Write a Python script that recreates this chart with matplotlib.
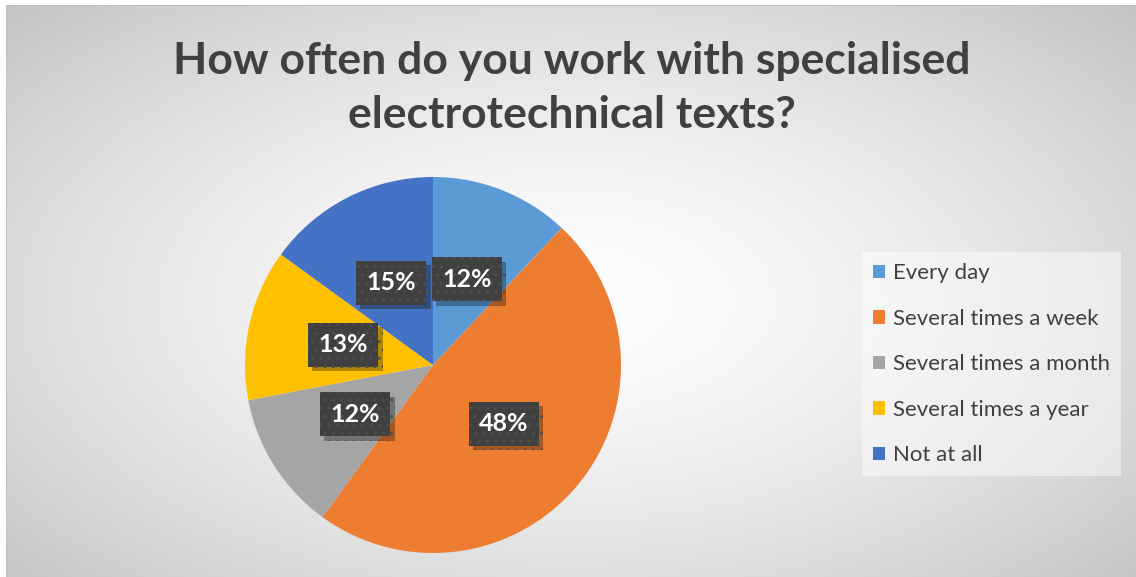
import matplotlib
matplotlib.use("Agg")
import matplotlib.pyplot as plt
import matplotlib.patheffects as pe
import numpy as np

# data
categories = ["Every day", "Several times a week", "Several times a month",
              "Several times a year", "Not at all"]
shares = [12, 48, 12, 13, 15]
colors = ["#5b9bd5", "#ed7d31", "#a5a5a5", "#ffc000", "#4472c4"]
title = "How often do you work with specialised\nelectrotechnical texts?"

W, H = 1136, 577
plt.rcParams["font.family"] = ["Lato", "DejaVu Sans"]
fig = plt.figure(figsize=(W / 100, H / 100), dpi=100)
fig.patch.set_facecolor("white")

# radial gradient background
bg = fig.add_axes([0, 0, 1, 1])
yy, xx = np.mgrid[0:H, 0:W]
d = np.sqrt(((xx - 568) / 620.0) ** 2 + ((yy - 300) / 330.0) ** 2)
shade = np.clip(0.995 - 0.16 * d ** 1.5, 0, 1)
img = np.dstack([shade, shade, shade])
img[:5, :, :] = 1.0
img[:, :6, :] = 1.0
img[5, 6:, :] = 0.75
img[5:, 6, :] = 0.75
bg.imshow(img, extent=(0, W, H, 0), aspect="auto", interpolation="bilinear")
bg.set_xlim(0, W)
bg.set_ylim(H, 0)
bg.axis("off")

fig.text(572 / W, 1 - 88 / H, title, ha="center", va="center",
         fontsize=32, fontweight="bold", color="#404040", linespacing=1.45)

# pie
cx, cy, r = 433, 365, 188
ax = fig.add_axes([(cx - r) / W, (H - cy - r) / H, 2 * r / W, 2 * r / H])
wedges, texts, autotexts = ax.pie(
    shares, colors=colors, startangle=90, counterclock=False,
    autopct="%d%%", pctdistance=0.49, radius=1,
    wedgeprops=dict(linewidth=0),
    textprops=dict(color="white", fontsize=18, fontweight="bold"),
)
ax.set_xlim(-1, 1)
ax.set_ylim(-1, 1)
ax.set_aspect("equal")

for t in autotexts:
    t.set_bbox(dict(boxstyle="square,pad=0.42", facecolor="#404040",
                    edgecolor="#4d4d4d", linewidth=0, hatch=".."))
    t.get_bbox_patch().set_path_effects([
        pe.SimplePatchShadow(offset=(3, -3), shadow_rgbFace="black", alpha=0.3),
        pe.Normal(),
    ])

leg = fig.legend(
    wedges, categories, loc="upper left",
    bbox_to_anchor=(862 / W, 1 - 252 / H),
    frameon=True, fancybox=False, fontsize=16, labelcolor="#404040",
    handlelength=0.55, handleheight=0.55, handletextpad=0.35,
    labelspacing=1.15, borderpad=0.5, borderaxespad=0,
)
leg.get_frame().set_facecolor("white")
leg.get_frame().set_alpha(0.45)
leg.get_frame().set_linewidth(0)

fig.savefig("out.png", dpi=100)
